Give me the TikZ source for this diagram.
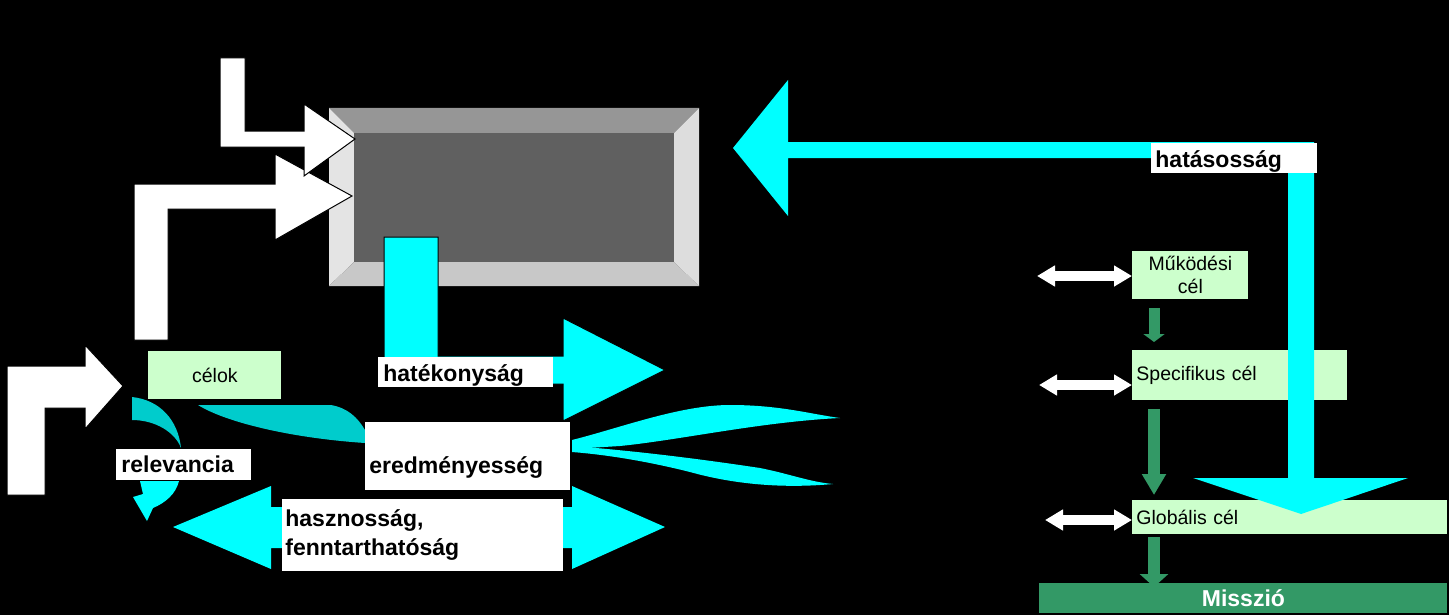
\documentclass[tikz,border=0pt]{standalone}
\usepackage{fontspec}
\setmainfont{Liberation Sans}
\usepackage{xcolor}
\usetikzlibrary{arrows.meta}

\definecolor{cian}{RGB}{0,255,255}
\definecolor{sotetcian}{RGB}{0,204,204}
\definecolor{vilagoszold}{RGB}{204,255,204}
\definecolor{zold}{RGB}{51,153,102}
\definecolor{szurketeto}{RGB}{150,150,150}
\definecolor{szurkebal}{RGB}{228,228,228}
\definecolor{szurkealj}{RGB}{200,200,200}
\definecolor{szurkejobb}{RGB}{221,221,221}
\definecolor{szurkeelo}{RGB}{96,96,96}

\tikzset{
  szoveg/.style={font=\fontsize{9.75}{11.5}\selectfont, align=center, inner sep=0pt},
  zolddoboz/.style={fill=vilagoszold, font=\fontsize{9.75}{11.5}\selectfont, anchor=north west, inner sep=0pt},
  cimke/.style={fill=white, font=\bfseries\fontsize{11.5}{14.5}\selectfont, anchor=north west, align=left, inner ysep=0pt},
  zoldnyil/.style={draw=zold, line width=6pt},
  feherketto/.style={draw=white, line width=5pt, {Triangle[width=10pt,length=9pt]}-{Triangle[width=10pt,length=9pt]}},
  fehernyil/.style={fill=white, draw=black, line width=0.5pt}
}

\begin{document}
\begin{tikzpicture}[x=0.5pt,y=-0.5pt]

% Háttér
\useasboundingbox (0,0) rectangle (1449,615);
\fill[black] (0,0) rectangle (1449,615);

% 3D doboz
\fill[szurketeto] (329,108) -- (699,108) -- (674,133) -- (354,133) -- cycle;
\fill[szurkebal] (329,108) -- (354,133) -- (354,262) -- (329,286) -- cycle;
\fill[szurkealj] (329,286) -- (354,262) -- (674,262) -- (699,286) -- cycle;
\fill[szurkejobb] (699,108) -- (699,286) -- (674,262) -- (674,133) -- cycle;
\fill[szurkeelo] (354,133) rectangle (674,262);

% Bemeneti nyilak (fehér)
\draw[fehernyil] (134,340) -- (134,184) -- (275,184) -- (275,154) -- (352,196) -- (275,240) -- (275,209) -- (168,209) -- (168,340) -- cycle;
\draw[fehernyil] (220,58) -- (245,58) -- (245,131) -- (304,131) -- (304,104) -- (355,139) -- (304,176) -- (304,147) -- (220,147) -- cycle;
\draw[fehernyil] (7,495) -- (7,366) -- (85,366) -- (85,345) -- (123,386) -- (85,429) -- (85,408) -- (45,408) -- (45,495) -- cycle;

% Hatékonyság nyíl
\draw[fill=cian, draw=black, line width=0.5pt] (384,237) -- (438,237) -- (438,356) -- (563,356) -- (563,318) -- (665,370) -- (563,421) -- (563,384) -- (384,384) -- cycle;

% Íves nyilak
\fill[sotetcian] (132,397) .. controls (160,400) and (178,420) .. (181,448) .. controls (175,432) and (155,420) .. (132,420) -- cycle;
\fill[cian] (140,481) -- (179,481) .. controls (176,494) and (165,503) .. (153,508) -- (147,521) -- (133,497) -- (143,494) -- cycle;
\fill[sotetcian] (198,405) -- (331,405) .. controls (348,408) and (358,418) .. (365,430) -- (365,443) .. controls (290,438) and (225,422) .. (198,405) -- cycle;
\fill[cian] (572,440) .. controls (620,428) and (680,405) .. (730,405) .. controls (780,405) and (810,414) .. (840,418) .. controls (760,422) and (680,440) .. (620,446) -- (572,449) -- cycle;
\fill[cian] (572,446) .. controls (650,452) and (720,462) .. (760,468) .. controls (790,474) and (810,482) .. (833,484) .. controls (790,488) and (740,486) .. (690,472) .. controls (650,462) and (610,455) .. (572,452) -- cycle;

% Hasznosság nyíl
\fill[cian] (173,527) -- (271,486) -- (271,507) -- (572,507) -- (572,486) -- (665,527) -- (572,569) -- (572,548) -- (271,548) -- (271,569) -- cycle;

% Célok (jobb oldal)
\node[zolddoboz, minimum width=66.5pt, minimum height=24pt, align=center] (celok) at (148,351) {célok};
\node[zolddoboz, minimum width=58pt, minimum height=24pt, align=center] (mukodesi) at (1132,251) {Működési\\cél};
\node[zolddoboz, text width=103.5pt, inner xsep=2pt, minimum height=25pt, align=left] (specifikus) at (1132,350) {Specifikus cél};
\node[zolddoboz, text width=153.5pt, inner xsep=2pt, minimum height=17pt, align=left] (globalis) at (1132,500) {Globális cél};
\node[fill=zold, text=white, font=\bfseries\fontsize{11.5}{14.5}\selectfont, minimum width=204pt, minimum height=15pt, anchor=north west, inner sep=0pt] (misszio) at (1039,583) {Misszió};

% Zöld nyilak
\draw[zoldnyil, line width=5.5pt, -{Triangle[width=10.5pt,length=4pt]}] ([xshift=11pt,yshift=-4pt]mukodesi.south west) -- ([xshift=11pt,yshift=4pt]specifikus.north west);
\draw[zoldnyil, -{Triangle[width=11.5pt,length=10.5pt]}] ([xshift=11pt,yshift=-4pt]specifikus.south west) -- ([xshift=11pt,yshift=2.5pt]globalis.north west);
\draw[zoldnyil, -{Triangle[width=14pt,length=6.5pt]}] ([xshift=11pt,yshift=-1pt]globalis.south west) -- ([xshift=11pt,yshift=-2pt]globalis.south west |- misszio.north);

% Fehér kettős nyilak
\coordinate (bal1) at (1037,276);
\coordinate (bal2) at (1039,385);
\coordinate (bal3) at (1045,520);
\draw[feherketto] (bal1) -- (bal1 -| mukodesi.west);
\draw[feherketto] (bal2) -- (bal2 -| specifikus.west);
\draw[feherketto] (bal3) -- (bal3 -| globalis.west);

% Hatásosság nyíl
\fill[cian] (733,148) -- (788,80) -- (788,142) -- (1314,142) -- (1314,478) -- (1408,478) -- (1301,514) -- (1193,478) -- (1288,478) -- (1288,158) -- (788,158) -- (788,216) -- cycle;

% Címkék
\node[cimke, text width=82.5pt, inner xsep=2.5pt, text height=12pt, text depth=3pt] (hatekonysag) at (378,357) {hatékonyság};
\node[cimke, text width=62.5pt, inner xsep=2.5pt, text height=11.5pt, text depth=4pt] (relevancia) at (116,449) {relevancia};
\node[cimke, text width=98.5pt, inner xsep=2pt, text height=25.5pt, text depth=8.5pt] (eredmenyesseg) at (365,422) {eredményesség};
\node[cimke, text width=137.5pt, inner xsep=1.5pt, minimum height=36pt] (hasznossag) at (282,499) {hasznosság,\\fenntarthatóság};
\node[cimke, text width=79pt, inner xsep=2pt, text height=12pt, text depth=3pt] (hatasossag) at (1151,143) {hatásosság};

% Fekete szövegek
\node[szoveg] (adottsagok) at (217,29) {adottságok,\\ismeretek};
\node[szoveg] (kimenet) at (742,278) {kimenet};
\node[szoveg] (letrehozott) at (918,277) {létrehozott\\termék/szolgáltatás};
\node[szoveg] (eredmeny) at (741,377) {eredmény};
\node[szoveg] (kovetkezmenyek) at (920,377) {következmények};
\node[szoveg] (szuksegletek) at (74,520) {szükségletek};
\node[szoveg] (hatas) at (742,518) {hatás};
\node[szoveg] (hosszabb) at (906,518) {hosszabb távú kihatások};

\end{tikzpicture}
\end{document}
